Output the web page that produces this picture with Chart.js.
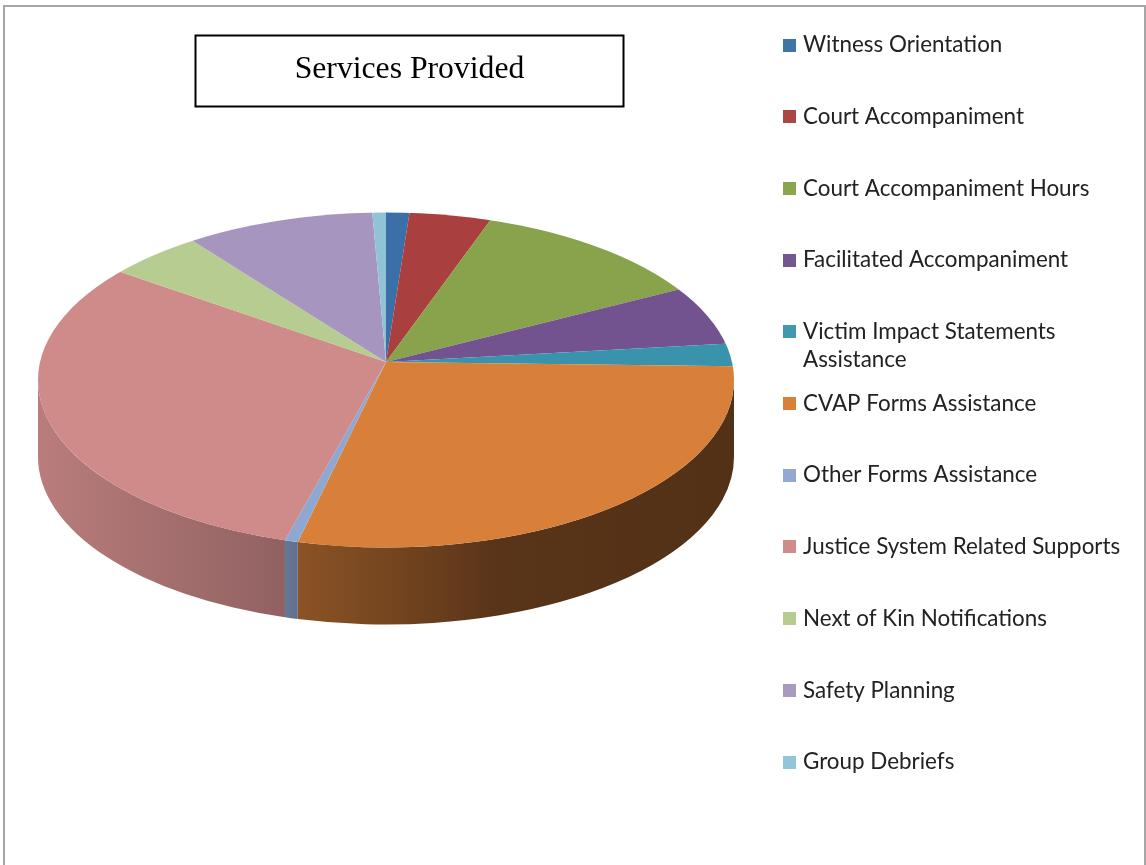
<!DOCTYPE html>
<html>
<head>
<meta charset="utf-8">
<style>html,body{margin:0;padding:0;background:#fff}canvas{display:block}</style>
<script src="https://cdn.jsdelivr.net/npm/chart.js@4/dist/chart.umd.min.js"></script>
</head>
<body>
<canvas id="c" width="1146" height="865"></canvas>
<script>
const chartTitle = 'Services Provided';
const categories = ['Witness Orientation','Court Accompaniment','Court Accompaniment Hours','Facilitated Accompaniment','Victim Impact Statements','CVAP Forms Assistance','Other Forms Assistance','Justice System Related Supports','Next of Kin Notifications','Safety Planning','Group Debriefs'];
const categoryContinuation = {4:'Assistance'};
const values = [1.2,4.2,12.0,5.8,2.2,28.25,0.55,30.55,4.8,9.7,0.7];
const colors = ['#3B6FA8','#AA3F3F','#88A34C','#72528F','#3A93AD','#D8803A','#8EA8D2','#CE8B8A','#B6CC91','#A696BF','#90C3D6'];
const legendBoxColors = ['#3F74A6','#AA4644','#89A54E','#71588F','#4198AF','#D8803A','#93A9CF','#CE8B8A','#B6CC91','#A99BBD','#92C5D6'];

const apex = {x:386,y:362}, rim = {x:386,y:380,rx:348,ry:167.5}, squash = 0.48, depth = 77;
const shadeStops = [[0,.90],[.36,.70],[.38,.64],[.52,.53],[.66,.41],[1,.38]];
function rgb(h){return [1,3,5].map(i=>parseInt(h.substr(i,2),16));}
function shade(h,f){return 'rgb('+rgb(h).map(v=>Math.round(v*f)).join(',')+')';}
// rim parameter where the ray at clockwise angle th from the apex meets the ellipse
function rimT(th){
  const dx=Math.sin(th)/rim.rx, dy=-Math.cos(th)*squash/rim.ry, oy=(apex.y-rim.y)/rim.ry;
  const a=dx*dx+dy*dy,b=2*oy*dy,c=oy*oy-1;
  const s=(-b+Math.sqrt(b*b-4*a*c))/(2*a);
  return Math.atan2(oy+s*dy,s*dx);
}
const pie3d = {
  id:'pie3d',
  afterLayout(chart){
    const lg=chart.legend;
    lg.left=733.7;lg.right=1146;lg.top=-15.5;lg.bottom=865;
    lg.adjustHitBoxes();
  },
  beforeDraw(chart){
    const c=chart.ctx;
    c.save();
    c.fillStyle='#fff';c.fillRect(0,0,1146,865);
    c.strokeStyle='#a6a6a6';c.lineWidth=2;
    c.beginPath();c.moveTo(4,865);c.lineTo(4,6);c.lineTo(1145,6);c.lineTo(1145,865);c.stroke();
    c.strokeStyle='#000';c.lineWidth=2;c.strokeRect(195.5,35.5,428,71);
    c.restore();
    const tb=chart.titleBlock;
    tb.left=195;tb.right=624;tb.top=51;
  },
  beforeDatasetsDraw(chart){
    const c=chart.ctx, arcs=chart.getDatasetMeta(0).data;
    c.save();
    arcs.forEach((arc,i)=>{
      const p=arc.getProps(['startAngle','endAngle']);
      let t0=rimT(p.startAngle+Math.PI/2), t1=rimT(p.endAngle+Math.PI/2);
      if(t1<t0) t1+=2*Math.PI;
      const a=Math.max(t0,0), b=Math.min(t1,Math.PI);
      if(b<=a) return;
      const g=c.createLinearGradient(rim.x-rim.rx,0,rim.x+rim.rx,0);
      shadeStops.forEach(s=>g.addColorStop(s[0],shade(colors[i],s[1])));
      c.fillStyle=g;
      c.beginPath();
      c.ellipse(rim.x,rim.y,rim.rx,rim.ry,0,a,b,false);
      c.ellipse(rim.x,rim.y+depth,rim.rx,rim.ry,0,b,a,true);
      c.closePath();c.fill();
    });
    c.restore();
    const first=arcs[0];
    const R=first.outerRadius, sx=430/R, sy=sx*squash;
    c.save();
    c.beginPath();c.ellipse(rim.x,rim.y,rim.rx,rim.ry,0,0,2*Math.PI);c.clip();
    c.translate(apex.x,apex.y);c.scale(sx,sy);c.translate(-first.x,-first.y);
  },
  afterDatasetsDraw(chart){
    chart.ctx.restore();
  },
  afterDraw(chart){
    const c=chart.ctx, lg=chart.legend, fs=lg.options.labels.font.size;
    c.save();
    lg.legendHitBoxes.forEach((hb,i)=>{
      c.fillStyle=legendBoxColors[i];
      c.fillRect(783,Math.round(hb.top+(fs-13)/2),13,13);
      if(categoryContinuation[i]){
        c.fillStyle='#222';c.font=fs+'px Lato';
        c.textBaseline='middle';c.textAlign='left';
        c.fillText(categoryContinuation[i],803,hb.top+fs/2+28);
      }
    });
    c.restore();
  }
};
new Chart(document.getElementById('c'),{
  type:'pie',
  data:{labels:categories,datasets:[{data:values,backgroundColor:colors,borderWidth:0}]},
  options:{
    responsive:false,animation:false,events:[],
    layout:{padding:0},
    plugins:{
      tooltip:{enabled:false},
      title:{display:true,text:chartTitle,color:'#000',padding:0,font:{family:'"Liberation Serif"',size:31.7,weight:'normal'}},
      legend:{display:true,position:'right',align:'start',
        labels:{color:'#222',boxWidth:8.8,boxHeight:11,padding:49.3,font:{family:'Lato',size:22.4,weight:'normal'}}}
    }
  },
  plugins:[pie3d]
});
</script>
</body>
</html>
